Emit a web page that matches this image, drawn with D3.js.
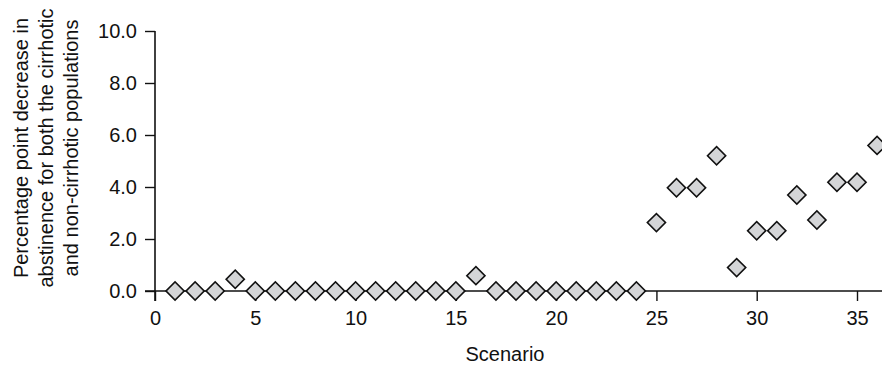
<!DOCTYPE html>
<html>
<head>
<meta charset="utf-8">
<script src="https://cdn.jsdelivr.net/npm/d3@7"></script>
<style>
  body { margin: 0; background: #fff; }
  svg text { font-family: "Liberation Sans", Arial, sans-serif; fill: #111; }
</style>
</head>
<body>
<svg id="graph" width="882" height="370"></svg>
<script>
// 数据
const scenarios = d3.range(1, 37);
const decrease = [
  0, 0, 0, 0.45, 0, 0, 0, 0, 0, 0, 0, 0, 0, 0, 0, 0.59,
  0, 0, 0, 0, 0, 0, 0, 0,
  2.63, 3.97, 3.97, 5.2, 0.9, 2.32, 2.32, 3.69, 2.73, 4.18, 4.18, 5.6
];
const xTicks = [0, 5, 10, 15, 20, 25, 30, 35];
const yTicks = [0, 2, 4, 6, 8, 10];
const yTitle = [
  'Percentage point decrease in',
  'abstinence for both the cirrhotic',
  'and non-cirrhotic populations'
];

const svg = d3.select('#graph');
const data = scenarios.map((s, i) => ({ s: s, v: decrease[i] }));

const xScale = d3.scaleLinear().domain([0, 35]).range([155, 857]);
const yScale = d3.scaleLinear().domain([0, 10]).range([291, 31]);

// 坐标轴
const xAxis = svg.append('g')
  .attr('transform', `translate(0, ${yScale(0)})`)
  .call(d3.axisBottom(xScale).tickValues(xTicks).tickSize(10).tickPadding(10).tickFormat(d3.format('d')));
xAxis.select('.domain').remove();
xAxis.append('line')
  .attr('x1', 145).attr('x2', 882)
  .attr('stroke', '#111').attr('stroke-width', 1.6);
xAxis.selectAll('.tick line').attr('stroke', '#111').attr('stroke-width', 1.4);
xAxis.selectAll('text').style('font-size', '20px').attr('fill', '#111');

const yAxis = svg.append('g')
  .attr('transform', `translate(${xScale(0)}, 0)`)
  .call(d3.axisLeft(yScale).tickValues(yTicks).tickSize(10).tickPadding(8).tickFormat(d3.format('.1f')));
yAxis.select('.domain').remove();
yAxis.append('line')
  .attr('y1', yScale(10)).attr('y2', yScale(0) + 10)
  .attr('stroke', '#111').attr('stroke-width', 1.6);
yAxis.selectAll('.tick line').attr('stroke', '#111').attr('stroke-width', 1.4);
yAxis.selectAll('text').style('font-size', '20px').attr('fill', '#111');

// 菱形点
const diamond = d3.symbol().type(d3.symbolSquare).size(165);
svg.append('g').selectAll('path')
  .data(data)
  .join('path')
  .attr('d', diamond)
  .attr('transform', d => `translate(${xScale(d.s)}, ${yScale(d.v)}) rotate(45)`)
  .attr('fill', '#d4d5d7')
  .attr('stroke', '#111')
  .attr('stroke-width', 1.6);

// 标题
svg.append('text')
  .attr('x', 505).attr('y', 361)
  .attr('text-anchor', 'middle')
  .style('font-size', '20px')
  .text('Scenario');

const yt = svg.append('text')
  .attr('transform', 'translate(28, 148) rotate(-90)')
  .attr('text-anchor', 'middle')
  .style('font-size', '20px');
yTitle.forEach((t, i) => {
  yt.append('tspan').attr('x', 0).attr('y', i * 25).text(t);
});
</script>
</body>
</html>
